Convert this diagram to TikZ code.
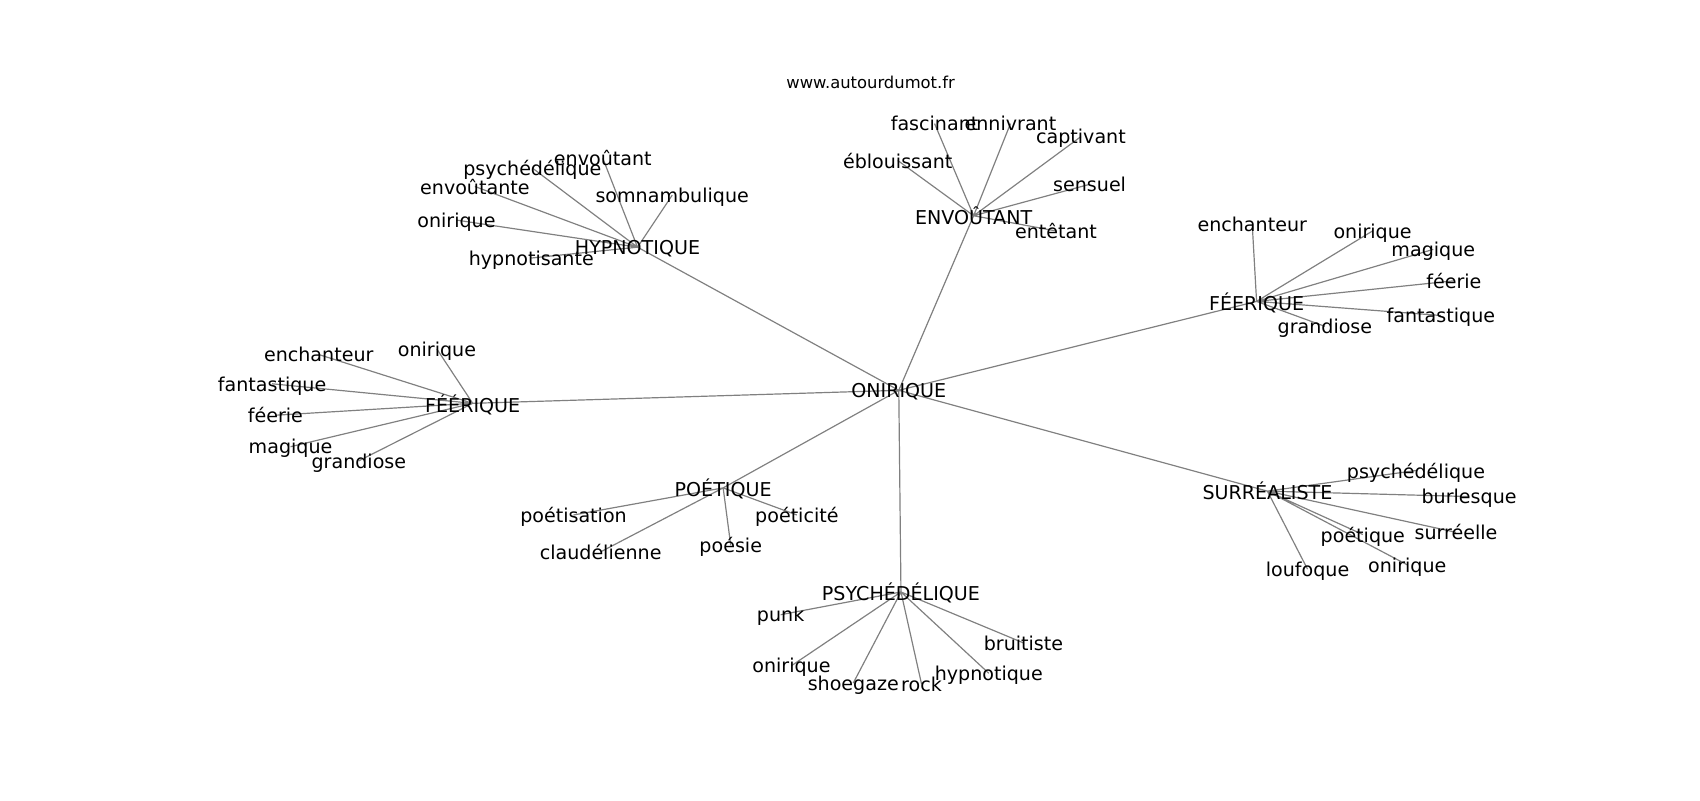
\documentclass[tikz,border=0pt]{standalone}
\usepackage{fontspec}
\setmainfont{DejaVu Sans}
\usetikzlibrary{backgrounds}

\tikzset{
  word/.style={inner sep=0pt, text depth=0pt, font=\fontsize{17.6}{20}\selectfont},
  link/.style={draw=gray, line width=1.1pt}
}

\begin{document}
\begin{tikzpicture}[x=1pt, y=-1pt]
  \useasboundingbox (0,0) rectangle (1568,738);

  % Define nodes
  \node[inner sep=0pt, font=\fontsize{15.1}{18}\selectfont] (site) at (803,76) {www.autourdumot.fr};
  \node[word] (onirique) at (829,360) {ONIRIQUE};

  \node[word] (hypnotique) at (588,228) {HYPNOTIQUE};
  \node[word] (hyp-envoutant) at (556,146) {envoûtant};
  \node[word] (hyp-psyche) at (491,155) {psychédélique};
  \node[word] (hyp-envoutante) at (438,172) {envoûtante};
  \node[word] (hyp-somnambule) at (620,180) {somnambulique};
  \node[word] (hyp-onirique) at (421,203) {onirique};
  \node[word] (hyp-hypnotisante) at (490,238) {hypnotisante};

  \node[word] (envoutant) at (898,199) {ENVOÛTANT};
  \node[word] (env-fascinant) at (862,114) {fascinant};
  \node[word] (env-ennivrant) at (932,114) {ennivrant};
  \node[word] (env-captivant) at (997,126) {captivant};
  \node[word] (env-eblouissant) at (828,148) {éblouissant};
  \node[word] (env-sensuel) at (1005,170) {sensuel};
  \node[word] (env-entetant) at (974,213) {entêtant};

  \node[word] (feerique) at (1159,278) {FÉERIQUE};
  \node[word] (fee-enchanteur) at (1155,207) {enchanteur};
  \node[word] (fee-onirique) at (1266,213) {onirique};
  \node[word] (fee-magique) at (1322,230) {magique};
  \node[word] (fee-feerie) at (1341,259) {féerie};
  \node[word] (fee-fantastique) at (1329,291) {fantastique};
  \node[word] (fee-grandiose) at (1222,301) {grandiose};

  \node[word] (feeerique) at (436,372) {FÉÉRIQUE};
  \node[word] (fer-enchanteur) at (294,327) {enchanteur};
  \node[word] (fer-onirique) at (403,322) {onirique};
  \node[word] (fer-fantastique) at (251,354) {fantastique};
  \node[word] (fer-feerie) at (254,383) {féerie};
  \node[word] (fer-magique) at (268,412) {magique};
  \node[word] (fer-grandiose) at (331,425) {grandiose};

  \node[word] (poetique) at (667,450) {POÉTIQUE};
  \node[word] (poe-poetisation) at (529,475) {poétisation};
  \node[word] (poe-poeticite) at (735,475) {poéticité};
  \node[word] (poe-claudelienne) at (554,509) {claudélienne};
  \node[word] (poe-poesie) at (674,503) {poésie};

  \node[word] (psychedelique) at (831,546) {PSYCHÉDÉLIQUE};
  \node[word] (psy-punk) at (720,567) {punk};
  \node[word] (psy-bruitiste) at (944,593) {bruitiste};
  \node[word] (psy-onirique) at (730,614) {onirique};
  \node[word] (psy-shoegaze) at (787,630) {shoegaze};
  \node[word] (psy-rock) at (850,631) {rock};
  \node[word] (psy-hypnotique) at (912,621) {hypnotique};

  \node[word] (surrealiste) at (1169,453) {SURRÉALISTE};
  \node[word] (sur-psyche) at (1306,434) {psychédélique};
  \node[word] (sur-burlesque) at (1355,458) {burlesque};
  \node[word] (sur-surreelle) at (1343,491) {surréelle};
  \node[word] (sur-poetique) at (1257,493) {poétique};
  \node[word] (sur-onirique) at (1298,521) {onirique};
  \node[word] (sur-loufoque) at (1206,525) {loufoque};

  % Connect the nodes
  \begin{scope}[on background layer]
    \draw[link] (onirique.center) -- (hypnotique.center)
      (onirique.center) -- (envoutant.center)
      (onirique.center) -- (feerique.center)
      (onirique.center) -- (feeerique.center)
      (onirique.center) -- (poetique.center)
      (onirique.center) -- (psychedelique.center)
      (onirique.center) -- (surrealiste.center);

    \draw[link] (hypnotique.center) -- (hyp-envoutant.center)
      (hypnotique.center) -- (hyp-psyche.center)
      (hypnotique.center) -- (hyp-envoutante.center)
      (hypnotique.center) -- (hyp-somnambule.center)
      (hypnotique.center) -- (hyp-onirique.center)
      (hypnotique.center) -- (hyp-hypnotisante.center);

    \draw[link] (envoutant.center) -- (env-fascinant.center)
      (envoutant.center) -- (env-ennivrant.center)
      (envoutant.center) -- (env-captivant.center)
      (envoutant.center) -- (env-eblouissant.center)
      (envoutant.center) -- (env-sensuel.center)
      (envoutant.center) -- (env-entetant.center);

    \draw[link] (feerique.center) -- (fee-enchanteur.center)
      (feerique.center) -- (fee-onirique.center)
      (feerique.center) -- (fee-magique.center)
      (feerique.center) -- (fee-feerie.center)
      (feerique.center) -- (fee-fantastique.center)
      (feerique.center) -- (fee-grandiose.center);

    \draw[link] (feeerique.center) -- (fer-enchanteur.center)
      (feeerique.center) -- (fer-onirique.center)
      (feeerique.center) -- (fer-fantastique.center)
      (feeerique.center) -- (fer-feerie.center)
      (feeerique.center) -- (fer-magique.center)
      (feeerique.center) -- (fer-grandiose.center);

    \draw[link] (poetique.center) -- (poe-poetisation.center)
      (poetique.center) -- (poe-poeticite.center)
      (poetique.center) -- (poe-claudelienne.center)
      (poetique.center) -- (poe-poesie.center);

    \draw[link] (psychedelique.center) -- (psy-punk.center)
      (psychedelique.center) -- (psy-bruitiste.center)
      (psychedelique.center) -- (psy-onirique.center)
      (psychedelique.center) -- (psy-shoegaze.center)
      (psychedelique.center) -- (psy-rock.center)
      (psychedelique.center) -- (psy-hypnotique.center);

    \draw[link] (surrealiste.center) -- (sur-psyche.center)
      (surrealiste.center) -- (sur-burlesque.center)
      (surrealiste.center) -- (sur-surreelle.center)
      (surrealiste.center) -- (sur-poetique.center)
      (surrealiste.center) -- (sur-onirique.center)
      (surrealiste.center) -- (sur-loufoque.center);
  \end{scope}

\end{tikzpicture}
\end{document}
